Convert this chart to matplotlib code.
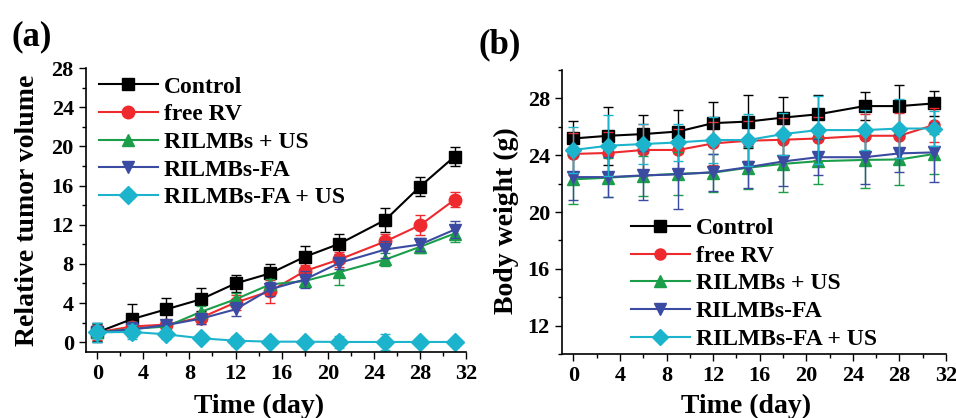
import matplotlib
matplotlib.use('Agg')
import matplotlib.pyplot as plt
from matplotlib.ticker import MultipleLocator

plt.rcParams['font.family'] = ['Liberation Serif', 'DejaVu Serif']
plt.rcParams['font.weight'] = 'bold'
plt.rcParams['axes.labelweight'] = 'bold'

labels = ['Control', 'free RV', 'RILMBs + US', 'RILMBs-FA', 'RILMBs-FA + US']
colors = ['black', '#ee2a2e', '#1b9e4a', '#3c4ba2', '#1bb4cc']
markers = ['s', 'o', '^', 'v', 'D']

days = [0, 3, 6, 9, 12, 15, 18, 21, 25, 28, 31]

# (a) relative tumor volume
vol_control = [1.0, 2.35, 3.36, 4.38, 6.0, 7.03, 8.72, 10.05, 12.5, 15.9, 18.97]
vol_rv = [1.0, 1.6, 1.8, 2.5, 4.05, 5.2, 7.26, 8.45, 10.3, 11.95, 14.56]
vol_us = [1.0, 1.35, 1.6, 3.1, 4.38, 5.9, 6.25, 7.16, 8.45, 9.74, 11.1]
vol_fa = [1.0, 1.3, 1.75, 2.4, 3.36, 5.4, 6.4, 8.1, 9.47, 9.98, 11.5]
vol_faus = [1.0, 1.05, 0.8, 0.4, 0.15, 0.05, 0.05, 0.02, 0.02, 0.02, 0.02]

err_control = [0.9, 1.6, 1.2, 1.2, 0.9, 1.0, 1.1, 1.0, 1.2, 1.0, 1.0]
err_rv = [0.8, 0.5, 0.5, 0.6, 0.8, 1.2, 0.6, 0.8, 0.8, 1.0, 0.75]
err_us = [1.0, 0.7, 0.6, 0.6, 0.6, 0.6, 0.6, 1.3, 0.7, 0.6, 0.9]
err_fa = [1.0, 0.8, 0.5, 0.5, 0.7, 0.7, 0.9, 0.6, 0.9, 0.7, 0.9]
err_faus = [1.0, 0.7, 0.5, 0.3, 0.5, 0.2, 0.3, 0.6, 0.8, 0.3, 0.2]

# (b) body weight
bw_control = [25.18, 25.37, 25.49, 25.67, 26.26, 26.37, 26.65, 26.88, 27.46, 27.46, 27.65]
bw_rv = [24.09, 24.16, 24.37, 24.37, 24.83, 25.02, 25.09, 25.18, 25.37, 25.37, 26.14]
bw_us = [22.3, 22.42, 22.56, 22.7, 22.77, 23.12, 23.39, 23.58, 23.67, 23.7, 24.09]
bw_fa = [22.46, 22.46, 22.58, 22.65, 22.81, 23.16, 23.56, 23.86, 23.86, 24.13, 24.2]
bw_faus = [24.37, 24.67, 24.79, 24.9, 25.07, 25.07, 25.49, 25.77, 25.77, 25.88, 25.88]

bwerr_control = [1.23, 2.05, 1.35, 1.53, 1.47, 1.84, 1.47, 1.33, 0.98, 1.51, 0.9]
bwerr_rv = [1.5, 1.5, 1.8, 1.5, 1.5, 1.4, 1.5, 1.5, 1.5, 1.6, 1.2]
bwerr_us = [1.74, 1.35, 1.4, 1.5, 1.35, 1.47, 1.98, 1.6, 2.0, 1.8, 1.4]
bwerr_fa = [1.58, 1.4, 1.74, 2.44, 1.3, 1.5, 1.7, 1.28, 1.9, 1.3, 2.1]
bwerr_faus = [1.63, 2.14, 1.4, 1.3, 1.6, 1.8, 1.5, 2.4, 1.4, 2.05, 1.2]

vol_series = [(vol_control, err_control), (vol_rv, err_rv), (vol_us, err_us),
              (vol_fa, err_fa), (vol_faus, err_faus)]
bw_series = [(bw_control, bwerr_control), (bw_rv, bwerr_rv), (bw_us, bwerr_us),
             (bw_fa, bwerr_fa), (bw_faus, bwerr_faus)]

fig = plt.figure(figsize=(9.56, 4.18), dpi=100)
ax1 = fig.add_axes([0.0896, 0.158, 0.398, 0.679])
ax2 = fig.add_axes([0.5876, 0.153, 0.402, 0.6795])


def draw(ax, series, msize):
    for (vals, errs), lab, c, m in zip(series, labels, colors, markers):
        ax.errorbar(days, vals, yerr=errs, fmt='none', ecolor=c,
                    elinewidth=1.0, capsize=3.5, capthick=1.0)
        ax.plot(days, vals, color=c, marker=m, markersize=msize,
                linewidth=1.5, label=lab)


def style(ax):
    ax.set_xlim(-1, 32)
    ax.xaxis.set_major_locator(MultipleLocator(4))
    ax.xaxis.set_minor_locator(MultipleLocator(2))
    ax.yaxis.set_major_locator(MultipleLocator(4))
    ax.yaxis.set_minor_locator(MultipleLocator(2))
    ax.tick_params(which='major', direction='out', length=5, width=1, labelsize=16)
    ax.tick_params(which='minor', direction='out', length=3, width=1)
    for sp in ['top', 'right']:
        ax.spines[sp].set_visible(False)
    for sp in ['left', 'bottom']:
        ax.spines[sp].set_linewidth(1.2)
    ax.set_xlabel('Time (day)', fontsize=20)


draw(ax1, vol_series, 9)
style(ax1)
ax1.set_ylim(-1, 28)
ax1.set_ylabel('Relative tumor volume', fontsize=20)
ax1.xaxis.set_label_coords(0.456, -0.148)
ax1.yaxis.set_label_coords(-0.12, 0.5)
ax1.legend(loc='upper left', bbox_to_anchor=(0.035, 0.972), frameon=False,
           fontsize=17, handlelength=2.5, handletextpad=0.25, labelspacing=0.26,
           borderpad=0, borderaxespad=0)

draw(ax2, bw_series, 8)
style(ax2)
ax2.set_ylim(10, 30)
ax2.set_ylabel('Body weight (g)', fontsize=20)
ax2.xaxis.set_label_coords(0.479, -0.141)
ax2.yaxis.set_label_coords(-0.11, 0.47)
ax2.legend(loc='lower left', bbox_to_anchor=(0.18, 0.015), frameon=False,
           fontsize=17, handlelength=2.5, handletextpad=0.25, labelspacing=0.26,
           borderpad=0, borderaxespad=0)

fig.text(0.012, 0.952, '(a)', fontsize=25, fontweight='bold', va='top')
fig.text(0.5, 0.932, '(b)', fontsize=25, fontweight='bold', va='top')

fig.savefig('out.png', dpi=100)
